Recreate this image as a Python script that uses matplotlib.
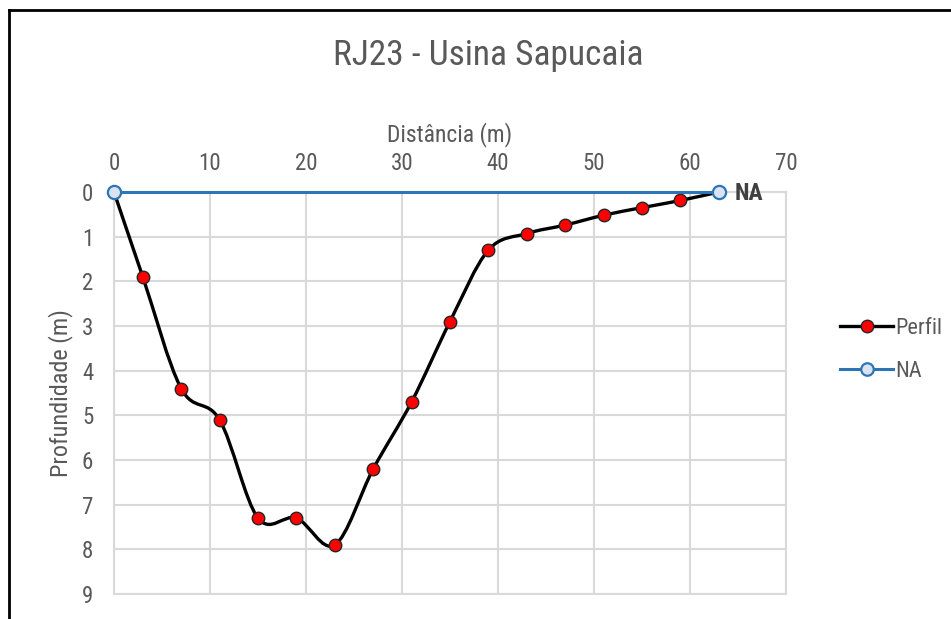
import matplotlib
matplotlib.use("Agg")
import matplotlib.pyplot as plt
from matplotlib import font_manager
from matplotlib.path import Path
from matplotlib.patches import PathPatch
from matplotlib.lines import Line2D

# ---- data ----
perfil_x = [0, 3, 7, 11, 15, 19, 23, 27, 31, 35, 39, 43, 47, 51, 55, 59, 63]
perfil_y = [0, 1.9, 4.4, 5.1, 7.3, 7.3, 7.9, 6.2, 4.7, 2.9, 1.3, 0.93, 0.74, 0.52, 0.35, 0.19, 0]
na_x = [0, 63]
na_y = [0, 0]
x_ticks = [0, 10, 20, 30, 40, 50, 60, 70]
y_ticks = [0, 1, 2, 3, 4, 5, 6, 7, 8, 9]
title = "RJ23 - Usina Sapucaia"
xlabel = "Distância (m)"
ylabel = "Profundidade (m)"

avail = {f.name for f in font_manager.fontManager.ttflist}
fam = [f for f in ["Liberation Sans Narrow", "Roboto Condensed", "Roboto", "Liberation Sans", "DejaVu Sans"] if f in avail]
plt.rcParams["font.family"] = fam

GRAY = "#d9d9d9"
TXT = "#595959"

fig = plt.figure(figsize=(9.51, 6.19), dpi=100)
ax = fig.add_axes([114/951, 1-594/619, (786-114)/951, (594-192)/619])

ax.set_xlim(0, 70)
ax.set_ylim(9, 0)
ax.set_xticks(x_ticks)
ax.set_yticks(y_ticks)
ax.xaxis.tick_top()
ax.xaxis.set_label_position("top")
ax.tick_params(length=0, labelsize=16.5, colors=TXT)
ax.tick_params(axis="x", pad=12)
ax.tick_params(axis="y", pad=15)
ax.grid(True, color=GRAY, linewidth=1.5)
ax.set_axisbelow(True)
for s in ax.spines.values():
    s.set_color(GRAY)
    s.set_linewidth(1.5)

ax.set_xlabel(xlabel, fontsize=17, color=TXT, labelpad=8)
ax.set_ylabel(ylabel, fontsize=17.5, color=TXT, labelpad=6)

# smooth (Excel-like) curve through points using cubic Bezier segments
def smooth_path(xs, ys):
    n = len(xs)
    verts = [(xs[0], ys[0])]
    codes = [Path.MOVETO]
    for i in range(n - 1):
        x0, y0 = (xs[i-1], ys[i-1]) if i > 0 else (xs[i], ys[i])
        x1, y1 = xs[i], ys[i]
        x2, y2 = xs[i+1], ys[i+1]
        x3, y3 = (xs[i+2], ys[i+2]) if i + 2 < n else (xs[i+1], ys[i+1])
        c1 = (x1 + (x2 - x0) / 6, y1 + (y2 - y0) / 6)
        c2 = (x2 - (x3 - x1) / 6, y2 - (y3 - y1) / 6)
        verts += [c1, c2, (x2, y2)]
        codes += [Path.CURVE4] * 3
    return Path(verts, codes)

ax.add_patch(PathPatch(smooth_path(perfil_x, perfil_y), facecolor="none",
                       edgecolor="black", linewidth=2.4, zorder=3, clip_on=False))
ax.plot(perfil_x, perfil_y, linestyle="none", marker="o", markersize=9,
        markerfacecolor="#ff0000", markeredgecolor="#262626", markeredgewidth=1.0,
        zorder=4, clip_on=False)
ax.plot(na_x, na_y, color="#2e75b6", linewidth=2.2, marker="o", markersize=9.5,
        markerfacecolor="#dae3f3", markeredgecolor="#2e75b6", markeredgewidth=1.6,
        zorder=5, clip_on=False)
ax.annotate("NA", (na_x[-1], na_y[-1]), xytext=(11.5, -1), textcoords="offset points",
            fontsize=17, fontweight="bold", color="#404040", va="center", ha="left")

fig.text(488/951, 1-55/619, title, fontsize=25.5, color=TXT, ha="center", va="center")

# legend
h1 = Line2D([], [], color="black", linewidth=2.4, marker="o", markersize=9,
            markerfacecolor="#ff0000", markeredgecolor="#262626")
h2 = Line2D([], [], color="#2e75b6", linewidth=2.2, marker="o", markersize=9,
            markerfacecolor="#dae3f3", markeredgecolor="#2e75b6", markeredgewidth=1.6)
fig.legend([h1, h2], ["Perfil", "NA"], loc="center left",
           bbox_to_anchor=(820/951, 1-350/619), frameon=False, fontsize=16,
           labelcolor=TXT, handlelength=2.4, handletextpad=0.1, labelspacing=1.0)

# outer frame (top and left)
fig.add_artist(Line2D([9/951, 9/951], [0, 1-10/619], color="black", linewidth=2,
                      transform=fig.transFigure))
fig.add_artist(Line2D([9/951, 1], [1-10/619, 1-10/619], color="black", linewidth=2,
                      transform=fig.transFigure))

fig.savefig("out.png", dpi=100)
